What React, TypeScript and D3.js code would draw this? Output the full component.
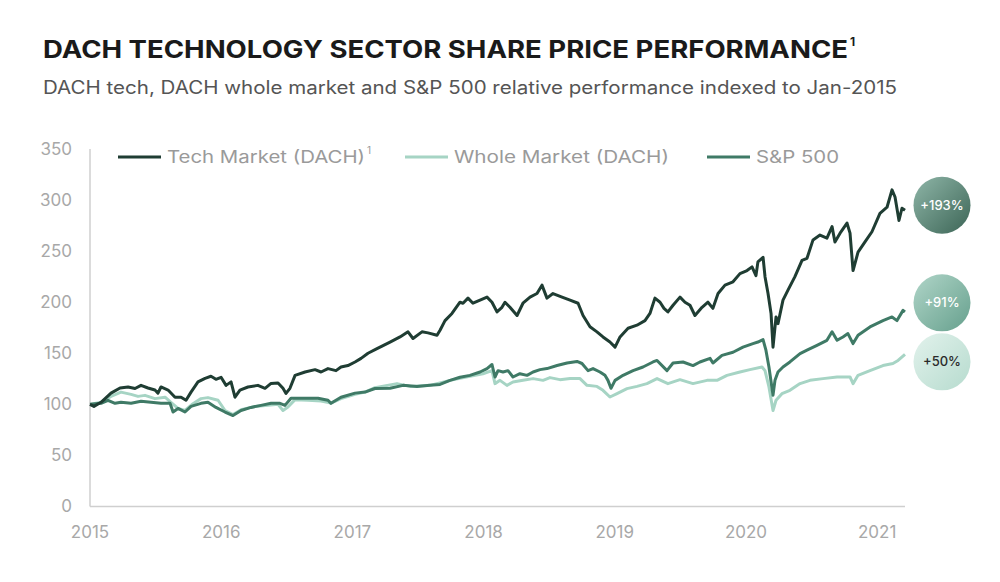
import React from "react";
import * as d3 from "d3";

// [decimal year, index value] readings, Jan-2015 = 100
const techSeries: [number, number][] = [
  [2015.0, 100], [2015.03, 98], [2015.084, 102], [2015.16, 111], [2015.229, 116], [2015.29, 117],
  [2015.343, 115.5], [2015.389, 118.6], [2015.442, 116], [2015.495, 114], [2015.518, 111], [2015.541, 117],
  [2015.595, 114], [2015.648, 107], [2015.694, 107], [2015.732, 104], [2015.77, 112], [2015.823, 122],
  [2015.877, 125.5], [2015.922, 127.5], [2015.96, 124.5], [2015.999, 126.5], [2016.037, 118.6], [2016.075, 122],
  [2016.105, 107], [2016.143, 114], [2016.204, 117], [2016.28, 118.6], [2016.334, 115.7], [2016.38, 120.5],
  [2016.433, 121], [2016.471, 115.7], [2016.494, 110.7], [2016.524, 115.7], [2016.563, 128.4], [2016.639, 131.7],
  [2016.715, 134], [2016.761, 131.7], [2016.814, 135], [2016.875, 133], [2016.913, 136.6], [2016.966, 138],
  [2017.02, 141.5], [2017.066, 145], [2017.119, 150], [2017.18, 154], [2017.287, 161], [2017.363, 166],
  [2017.424, 171], [2017.462, 164.5], [2017.53, 171], [2017.576, 170], [2017.645, 167.6], [2017.668, 172.5],
  [2017.706, 182], [2017.759, 189], [2017.82, 200], [2017.843, 199], [2017.881, 204], [2017.919, 199],
  [2017.973, 202], [2018.026, 205], [2018.064, 200], [2018.102, 190.5], [2018.14, 195], [2018.163, 200],
  [2018.201, 195], [2018.255, 187], [2018.3, 199], [2018.354, 205], [2018.407, 208.5], [2018.445, 216.7],
  [2018.483, 204], [2018.529, 208.5], [2018.598, 205], [2018.659, 202], [2018.72, 199], [2018.758, 187],
  [2018.811, 176], [2018.864, 171], [2018.91, 166], [2018.963, 161], [2019.002, 156], [2019.04, 166],
  [2019.101, 174.5], [2019.169, 177.5], [2019.23, 182], [2019.268, 189], [2019.306, 204], [2019.345, 200],
  [2019.375, 194], [2019.405, 190.5], [2019.444, 197], [2019.497, 205], [2019.535, 200], [2019.573, 197],
  [2019.611, 187], [2019.665, 195], [2019.71, 200], [2019.748, 194], [2019.787, 208.5], [2019.84, 216.7],
  [2019.901, 220], [2019.954, 228], [2020.008, 231], [2020.046, 234.6], [2020.076, 226], [2020.091, 239.5],
  [2020.13, 244], [2020.145, 225], [2020.168, 208.5], [2020.191, 189], [2020.206, 156], [2020.229, 185.6],
  [2020.244, 179], [2020.282, 202], [2020.32, 211.8], [2020.373, 225], [2020.427, 241], [2020.465, 243],
  [2020.511, 261], [2020.564, 265.7], [2020.617, 262.7], [2020.656, 274], [2020.678, 259], [2020.717, 267.6],
  [2020.77, 277.5], [2020.793, 267.6], [2020.816, 231], [2020.854, 249], [2020.907, 259], [2020.96, 269],
  [2021.021, 287], [2021.075, 293], [2021.113, 310], [2021.136, 303], [2021.166, 280], [2021.189, 292],
  [2021.212, 290],
];

const wholeSeries: [number, number][] = [
  [2015.0, 100], [2015.084, 102], [2015.16, 107.8], [2015.236, 112], [2015.313, 109.8], [2015.366, 107.8],
  [2015.419, 108.8], [2015.495, 105.6], [2015.572, 107], [2015.617, 102], [2015.671, 96], [2015.724, 94],
  [2015.785, 100.6], [2015.846, 105.6], [2015.899, 106.6], [2015.976, 104], [2016.029, 94], [2016.09, 90],
  [2016.151, 94.8], [2016.258, 98], [2016.357, 99], [2016.433, 100], [2016.471, 94], [2016.509, 97.4],
  [2016.563, 104.6], [2016.662, 104], [2016.761, 103.3], [2016.837, 101.3], [2016.913, 105.6], [2017.02, 109.8],
  [2017.096, 112], [2017.172, 116.3], [2017.34, 120.3], [2017.439, 117.6], [2017.591, 118.6], [2017.744, 123.5],
  [2017.896, 127.5], [2017.995, 130], [2018.064, 133], [2018.087, 120.3], [2018.125, 123.5], [2018.178, 118.6],
  [2018.224, 121.9], [2018.3, 123.5], [2018.377, 125.2], [2018.453, 123.5], [2018.506, 126.2], [2018.582, 124.2],
  [2018.659, 125.2], [2018.735, 125.2], [2018.788, 118.6], [2018.864, 117.6], [2018.91, 113.7], [2018.963, 107.2],
  [2019.017, 110.5], [2019.093, 115.4], [2019.169, 117.6], [2019.245, 120.3], [2019.322, 125.2], [2019.405, 120.3],
  [2019.497, 124.2], [2019.596, 120.3], [2019.703, 123.5], [2019.779, 123.5], [2019.855, 128.4], [2019.954, 131.7],
  [2020.03, 134], [2020.122, 136.6], [2020.145, 133], [2020.175, 117], [2020.206, 94], [2020.229, 104],
  [2020.274, 110.5], [2020.335, 113.7], [2020.412, 120.3], [2020.488, 123.5], [2020.587, 125.2], [2020.694, 126.8],
  [2020.793, 126.8], [2020.816, 120.3], [2020.854, 128.4], [2020.945, 133], [2021.044, 138], [2021.12, 140],
  [2021.159, 143], [2021.212, 149],
];

const spSeries: [number, number][] = [
  [2015.0, 100], [2015.084, 101], [2015.137, 104], [2015.191, 101], [2015.236, 102], [2015.313, 101],
  [2015.389, 103], [2015.465, 102], [2015.541, 101], [2015.61, 101], [2015.633, 92.5], [2015.671, 96],
  [2015.724, 92.5], [2015.77, 98], [2015.846, 101], [2015.899, 102], [2015.96, 97], [2016.029, 92.5],
  [2016.09, 89], [2016.151, 94], [2016.227, 97], [2016.303, 99], [2016.38, 101], [2016.448, 101],
  [2016.486, 99], [2016.532, 106], [2016.639, 106], [2016.738, 106], [2016.814, 104], [2016.837, 101],
  [2016.913, 107], [2017.02, 111], [2017.096, 112], [2017.172, 115.5], [2017.287, 115.7], [2017.386, 118.6],
  [2017.492, 117.6], [2017.591, 118.6], [2017.668, 119.5], [2017.744, 123.5], [2017.82, 126.5], [2017.896, 128.4],
  [2017.973, 131.7], [2018.026, 135], [2018.064, 139], [2018.087, 126.8], [2018.11, 133], [2018.148, 131.7],
  [2018.186, 133], [2018.224, 126.8], [2018.277, 130], [2018.331, 128.4], [2018.377, 131.7], [2018.43, 134],
  [2018.483, 135], [2018.56, 138], [2018.636, 140.5], [2018.712, 142], [2018.75, 140], [2018.796, 133],
  [2018.834, 135], [2018.887, 131.7], [2018.925, 128.4], [2018.948, 123.5], [2018.971, 115.7], [2019.002, 123.5],
  [2019.063, 128.4], [2019.139, 133], [2019.215, 136.6], [2019.291, 141.5], [2019.322, 143], [2019.398, 133],
  [2019.444, 140.5], [2019.52, 141.5], [2019.596, 138], [2019.649, 141.5], [2019.726, 145], [2019.748, 140.5],
  [2019.817, 148], [2019.901, 151], [2019.977, 156], [2020.053, 159.5], [2020.091, 161], [2020.13, 163.4],
  [2020.152, 153], [2020.175, 136.6], [2020.206, 109], [2020.221, 123.5], [2020.244, 131.7], [2020.282, 136.6],
  [2020.335, 141.5], [2020.412, 149.7], [2020.465, 153], [2020.541, 157.8], [2020.617, 162.7], [2020.656, 171],
  [2020.694, 162.7], [2020.739, 166], [2020.777, 169.3], [2020.816, 159.5], [2020.854, 167.6], [2020.945, 175.8],
  [2021.044, 182], [2021.113, 185.6], [2021.151, 182], [2021.197, 192], [2021.212, 190.5],
];

const yTicks = [0, 50, 100, 150, 200, 250, 300, 350];
const xTicks = [2015, 2016, 2017, 2018, 2019, 2020, 2021];
const seriesNames = ["Tech Market (DACH)", "Whole Market (DACH)", "S&P 500"];
const seriesColors = ["#1f3d33", "#a6d4c4", "#3f7a66"];
const badgePcts = [193, 91, 50];
const badgeGrad = [
  ["#8fb6a8", "#3c6556"],
  ["#b0d5c8", "#66a08d"],
  ["#e2f2ec", "#b6dbce"],
];
const badgeText = ["#ffffff", "#ffffff", "#2a2a2a"];

const FONT = "Inter, 'Open Sans', sans-serif";

export default function App() {
  const W = 1000;
  const H = 582;
  const x = d3.scaleLinear().domain([2015, 2021.212]).range([90, 905]);
  const y = d3.scaleLinear().domain([0, 350]).range([506.5, 149]);
  const line = d3
    .line<[number, number]>()
    .x((d) => x(d[0]))
    .y((d) => y(d[1]))
    .curve(d3.curveLinear);

  // badge positions: at end-index level, relaxed to avoid overlap
  const minGap = 59;
  const bys = badgePcts.map((p) => y(100 + p));
  for (let i = 1; i < bys.length; i++) {
    if (bys[i] - bys[i - 1] < minGap) {
      const mid = (bys[i] + bys[i - 1]) / 2;
      bys[i - 1] = mid - minGap / 2;
      bys[i] = mid + minGap / 2;
    }
  }
  bys[0] -= 2;
  const bx = x(2021.212) + 37;

  const legend = [
    { x0: 118, name: seriesNames[0], color: seriesColors[0], len: 198, sup: true },
    { x0: 405, name: seriesNames[1], color: seriesColors[1], len: 215, sup: false },
    { x0: 707, name: seriesNames[2], color: seriesColors[2], len: 83, sup: false },
  ];

  return (
    <svg
      width={W}
      height={H}
      style={{ position: "absolute", left: 0, top: 0, background: "#fff" }}
      fontFamily={FONT}
    >
      <defs>
        {badgeGrad.map((g, i) => (
          <linearGradient key={i} id={`bg${i}`} x1="0" y1="0" x2="1" y2="1">
            <stop offset="0%" stopColor={g[0]} />
            <stop offset="100%" stopColor={g[1]} />
          </linearGradient>
        ))}
      </defs>

      <text x={43} y={58} fontSize={24} fontWeight={700} fill="#1a1a1a" textLength={805} lengthAdjust="spacingAndGlyphs">
        DACH TECHNOLOGY SECTOR SHARE PRICE PERFORMANCE
      </text>
      <text x={850} y={46} fontSize={12} fontWeight={700} fill="#1a1a1a">
        1
      </text>
      <text x={43} y={94} fontSize={18} fill="#555" textLength={854} lengthAdjust="spacingAndGlyphs">
        DACH tech, DACH whole market and S&amp;P 500 relative performance indexed to Jan-2015
      </text>

      {/* legend */}
      {legend.map((l, i) => (
        <g key={i}>
          <line x1={l.x0} x2={l.x0 + 43} y1={157} y2={157} stroke={l.color} strokeWidth={3} />
          <text x={l.x0 + 49} y={163} fontSize={17} fill="#9a9a9a" textLength={l.len} lengthAdjust="spacingAndGlyphs">
            {l.name}
          </text>
          {l.sup && (
            <text x={l.x0 + 49 + l.len + 2} y={154} fontSize={10} fill="#9a9a9a">
              1
            </text>
          )}
        </g>
      ))}

      {/* axes */}
      <line x1={x(2015)} x2={x(2015)} y1={y(350)} y2={y(0)} stroke="#cfcfcf" strokeWidth={1.5} />
      <line x1={x(2015)} x2={x(2021.212)} y1={y(0)} y2={y(0)} stroke="#cfcfcf" strokeWidth={1.5} />
      {yTicks.map((t) => (
        <text key={t} x={72} y={y(t)} dy="0.35em" textAnchor="end" fontSize={17} fill="#a8a8a8">
          {t}
        </text>
      ))}
      {xTicks.map((t) => (
        <text key={t} x={x(t)} y={538} textAnchor="middle" fontSize={17} fill="#a8a8a8">
          {d3.format("d")(t)}
        </text>
      ))}

      {/* lines */}
      <path d={line(wholeSeries) || ""} fill="none" stroke={seriesColors[1]} strokeWidth={3} strokeLinejoin="round" />
      <path d={line(spSeries) || ""} fill="none" stroke={seriesColors[2]} strokeWidth={3} strokeLinejoin="round" />
      <path d={line(techSeries) || ""} fill="none" stroke={seriesColors[0]} strokeWidth={3} strokeLinejoin="round" />

      {/* badges */}
      {badgePcts.map((p, i) => (
        <g key={p}>
          <circle cx={bx} cy={bys[i]} r={28.5} fill={`url(#bg${i})`} />
          <text x={bx} y={bys[i]} dy="0.35em" textAnchor="middle" fontSize={13} fontWeight={500} fill={badgeText[i]}>
            {`+${p}%`}
          </text>
        </g>
      ))}
    </svg>
  );
}
